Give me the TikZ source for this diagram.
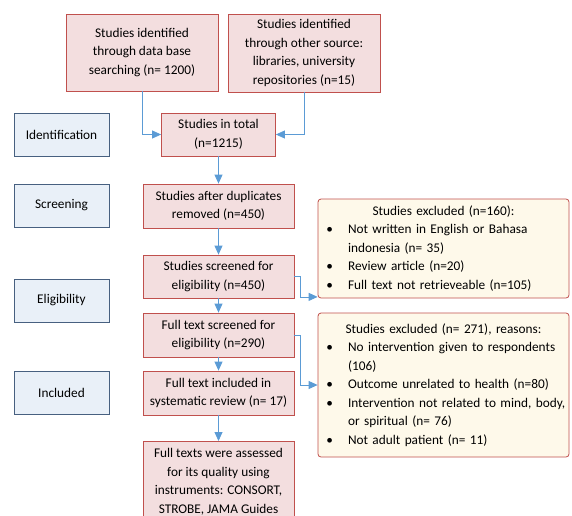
\documentclass[tikz,border=0pt]{standalone}
\usepackage{fontspec}
\setmainfont{Carlito}
\usepackage{enumitem}
\usetikzlibrary{arrows.meta}

\definecolor{boxred}{RGB}{192,80,77}
\definecolor{boxpink}{RGB}{243,222,223}
\definecolor{stageblue}{RGB}{71,96,128}
\definecolor{stagefill}{RGB}{233,240,248}
\definecolor{notefill}{RGB}{254,249,234}
\definecolor{flowblue}{RGB}{91,155,213}

\begin{document}
\begin{tikzpicture}[x=1pt,y=-1pt,
    every node/.style={font=\fontsize{13.3}{18.5}\selectfont},
    study/.style={draw=boxred,fill=boxpink,thick,align=center,inner sep=2pt,minimum width=151pt,minimum height=44pt},
    stage/.style={draw=stageblue,fill=stagefill,thick,minimum width=95pt,minimum height=43pt},
    note/.style={draw=boxred,fill=notefill,thick,rounded corners=3pt,align=left,text width=245pt,inner sep=3pt},
    flow/.style={draw=flowblue,thick,-{Triangle[length=9pt,width=8pt]}}
  ]
    \path[use as bounding box,clip] (0,0) rectangle (572,515);

    % stages
    \node[stage] (ident) at (61.5,134.5) {Identification};
    \node[stage] (screen) at (61.5,205.5) {Screening};
    \node[stage] (elig) at (61.5,300.5) {Eligibility};
    \node[stage] (incl) at (61.5,392.5) {Included};

    % main flow
    \node[study, minimum width=152pt, minimum height=77pt] (dbase) at (142,52.5)
      {Studies identified\\ through data base\\ searching (n= 1200)};
    \node[study, minimum width=152pt, minimum height=78pt] (other) at (304,53)
      {Studies identified\\ through other source:\\ libraries, university\\ repositories (n=15)};
    \node[study, minimum width=114pt, minimum height=43pt] (total) at (218.5,134.5) {Studies in total\\ (n=1215)};
    \node[study] (dup) at (218.5,206) {Studies after duplicates\\ removed (n=450)};
    \node[study, minimum height=43pt] (scr) at (218.5,276.5) {Studies screened for\\ eligibility (n=450)};
    \node[study] (fts) at (218.5,335) {Full text screened for\\ eligibility (n=290)};
    \node[study] (fti) at (218.5,393) {Full text included in\\ systematic review (n= 17)};
    \node[study, anchor=north, minimum height=0pt, inner ysep=7pt] (final) at (218.5,441)
      {Full texts were assessed\\ for its quality using\\ instruments: CONSORT,\\ STROBE, JAMA Guides};

    % exclusions
    \node[note, minimum height=99pt] (exc1) at (443.5,248.5) {{\centering Studies excluded (n=160):\par}
      \begin{itemize}[nosep,label=\textbullet,leftmargin=27pt,labelsep=15pt]
        \item Not written in English or Bahasa\newline indonesia (n= 35)
        \item Review article (n=20)
        \item Full text not retrieveable (n=105)
      \end{itemize}};
    \node[note, minimum height=144pt] (exc2) at (443.5,385) {{\centering Studies excluded (n= 271), reasons:\par}
      \begin{itemize}[nosep,label=\textbullet,leftmargin=27pt,labelsep=15pt]
        \item No intervention given to respondents\newline (106)
        \item Outcome unrelated to health (n=80)
        \item Intervention not related to mind, body,\newline or spiritual (n= 76)
        \item Not adult patient (n= 11)
      \end{itemize}};

    \draw[flow] (dbase.south) |- (total.west);
    \draw[flow] (other.south) |- (total.east);
    \draw[flow] (total.south) -- (dup.north);
    \draw[flow] (dup.south) -- (scr.north);
    \draw[flow] (scr.south) -- (fts.north);
    \draw[flow] (fts.south) -- (fti.north);
    \draw[flow] (fti.south) -- (final.north);
    \draw[flow] (scr.east) -- ++(6,0) |- ([yshift=1.5pt]exc1.south west);
    \draw[flow] (fts.east) -- ++(6,0) |- (exc2.west);
  \end{tikzpicture}
\end{document}
